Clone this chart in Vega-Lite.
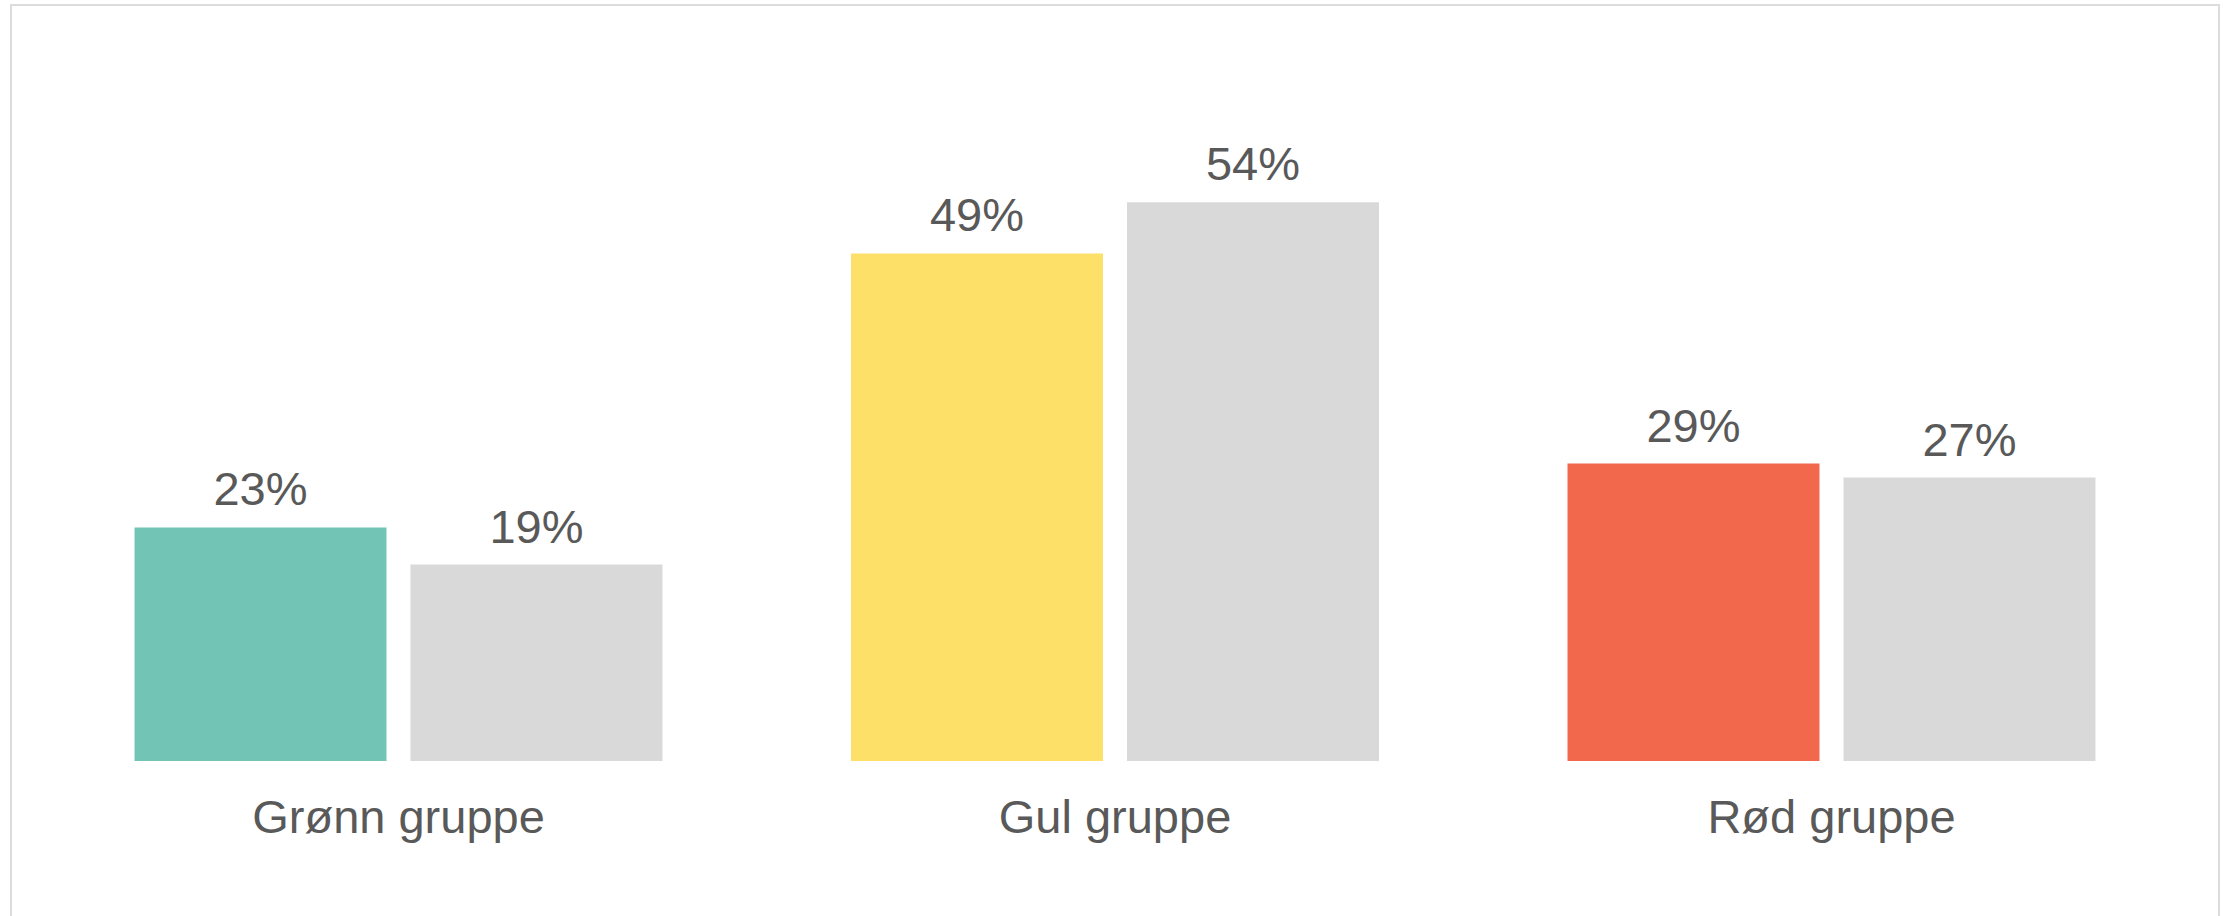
{
  "$schema": "https://vega.github.io/schema/vega-lite/v6.json",
  "autosize": {"type": "none"},
  "padding": {"left": 11, "top": 5, "right": 12, "bottom": 0},
  "width": 2208,
  "height": 920,
  "background": "white",
  "config": {
    "view": {"stroke": "#dcdcdc", "strokeWidth": 2},
    "font": "Liberation Sans"
  },
  "data": {
    "values": [
      {"gruppe": "Grønn gruppe", "serie": "a", "farge": "Grønn", "verdi": 0.2263},
      {"gruppe": "Grønn gruppe", "serie": "b", "farge": "Alle", "verdi": 0.1904},
      {"gruppe": "Gul gruppe", "serie": "a", "farge": "Gul", "verdi": 0.4918},
      {"gruppe": "Gul gruppe", "serie": "b", "farge": "Alle", "verdi": 0.5415},
      {"gruppe": "Rød gruppe", "serie": "a", "farge": "Rød", "verdi": 0.2883},
      {"gruppe": "Rød gruppe", "serie": "b", "farge": "Alle", "verdi": 0.2747}
    ]
  },
  "encoding": {
    "x": {
      "field": "gruppe",
      "type": "nominal",
      "sort": ["Grønn gruppe", "Gul gruppe", "Rød gruppe"],
      "scale": {"paddingInner": 0.2631, "paddingOuter": 0.1724},
      "axis": {
        "title": null,
        "orient": "bottom",
        "offset": -164,
        "domain": false,
        "ticks": false,
        "tickSize": 0,
        "grid": false,
        "labelAngle": 0,
        "labelFontSize": 47,
        "labelColor": "#595959",
        "labelBaseline": "alphabetic",
        "labelPadding": 71,
        "labelLimit": 0,
        "labelFont": "Liberation Sans"
      }
    },
    "xOffset": {
      "field": "serie",
      "type": "nominal",
      "scale": {"paddingInner": 0.087, "paddingOuter": 0}
    },
    "y": {
      "field": "verdi",
      "type": "quantitative",
      "scale": {"domain": [-0.1589, 0.7326], "nice": false, "zero": false},
      "axis": null
    }
  },
  "layer": [
    {
      "mark": {"type": "bar"},
      "encoding": {
        "y2": {"datum": 0},
        "color": {
          "field": "farge",
          "type": "nominal",
          "scale": {
            "domain": ["Grønn", "Gul", "Rød", "Alle"],
            "range": ["#72c4b4", "#fce068", "#f1684c", "#d9d9d9"]
          },
          "legend": null
        }
      }
    },
    {
      "mark": {
        "type": "text",
        "baseline": "alphabetic",
        "align": "center",
        "dy": -22,
        "fontSize": 47,
        "color": "#595959",
        "font": "Liberation Sans"
      },
      "encoding": {
        "text": {"field": "verdi", "type": "quantitative", "format": ".0%"}
      }
    }
  ]
}
